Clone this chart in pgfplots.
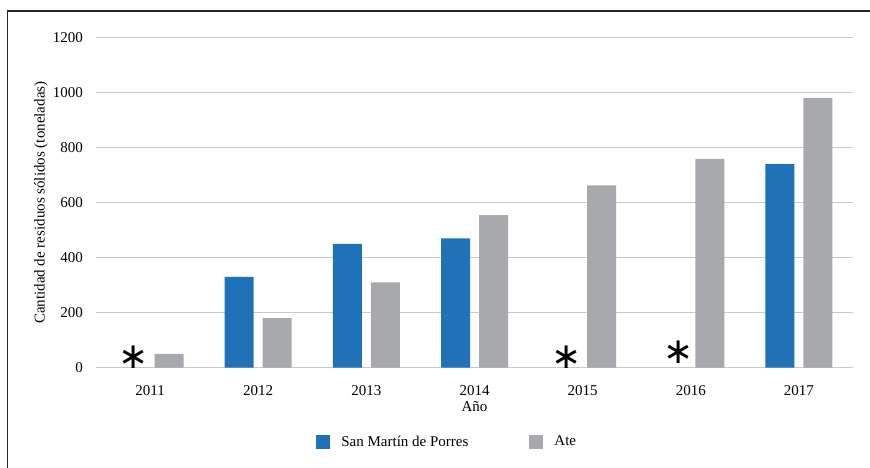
\documentclass[border=0pt]{standalone}
\usepackage{pgfplots}
\pgfplotsset{compat=1.18}
\usepackage{fontspec}
\setmainfont{Liberation Serif}
\newfontfamily\astfont{DejaVu Sans}
\definecolor{smpblue}{HTML}{1F71B8}
\definecolor{ategray}{HTML}{A7A9AC}
\definecolor{gridgray}{HTML}{C8C8CA}
\begin{document}
\fontsize{15}{18}\selectfont
\begin{tikzpicture}
\useasboundingbox (-96pt,-99.3pt) rectangle (774pt,367.7pt);
\draw[line width=1.2pt, black!85] (-88.5pt,-110pt) -- (-88.5pt,356.7pt) -- (790pt,356.7pt);
\begin{axis}[
  scale only axis, width=757pt, height=330pt,
  xmin=-0.5, xmax=6.5, ymin=0, ymax=1200,
  axis line style={draw=none}, tick style={draw=none},
  ymajorgrids, grid style={gridgray, line width=1.5pt},
  ytick={0,200,...,1200},
  xtick={0,...,6}, xticklabels={2011,2012,2013,2014,2015,2016,2017},
  /pgf/number format/1000 sep={},
  /pgf/number format/assume math mode=true,
  yticklabel style={inner sep=0pt, xshift=-13pt, font=\fontsize{15}{18}\selectfont},
  xticklabel style={inner sep=0pt, yshift=-13pt, font=\fontsize{15}{18}\selectfont},
  ylabel={Cantidad de residuos sólidos (toneladas)},
  xlabel={Año},
  ylabel style={at={(axis description cs:0,0.5)}, anchor=center, yshift=55pt, inner sep=0pt, font=\fontsize{15}{18}\selectfont},
  xlabel style={at={(axis description cs:0.5,0)}, anchor=center, yshift=-39pt, inner sep=0pt, font=\fontsize{15}{18}\selectfont},
  ybar=9pt, bar width=29pt,
  legend style={at={(0.464,-0.225)}, anchor=center, legend columns=2, draw=none, fill=none,
    font=\fontsize{15}{18}\selectfont,
    /tikz/every odd column/.append style={column sep=9pt},
    /tikz/every even column/.append style={column sep=59pt}},
  legend image code/.code={\fill[#1] (0pt,-7pt) rectangle (14pt,7pt);},
]
\addplot[fill=smpblue, draw=none] coordinates {(1,330) (2,450) (3,470) (6,740)};
\addlegendentry{San Martín de Porres}
\addplot[fill=ategray, draw=none] coordinates {(0,50) (1,180) (2,310) (3,555) (4,663) (5,759) (6,980)};
\addlegendentry{Ate}
\node[font=\astfont\fontsize{36}{36}\selectfont, anchor=base, inner sep=0pt, xshift=-16pt, yshift=-1pt] at (axis cs:0,0) {∗};
\node[font=\astfont\fontsize{36}{36}\selectfont, anchor=base, inner sep=0pt, xshift=-16pt, yshift=-1pt] at (axis cs:4,0) {∗};
\node[font=\astfont\fontsize{36}{36}\selectfont, anchor=base, inner sep=0pt, xshift=-12pt, yshift=4pt] at (axis cs:5,0) {∗};
\end{axis}
\end{tikzpicture}
\end{document}
